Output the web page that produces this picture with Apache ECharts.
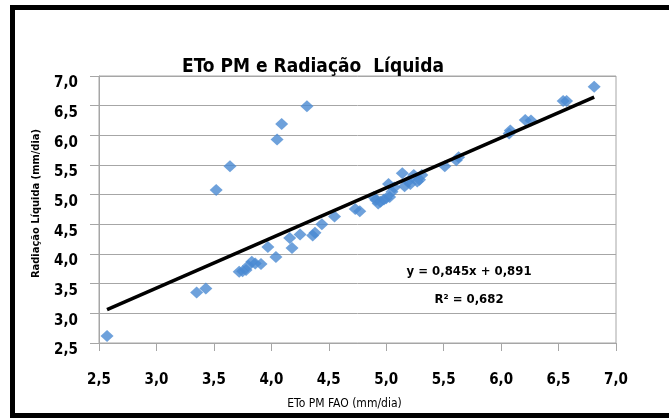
<!DOCTYPE html>
<html>
<head>
<meta charset="utf-8">
<script src="https://cdn.jsdelivr.net/npm/echarts@6/dist/echarts.min.js"></script>
<style>
  html, body { margin: 0; padding: 0; background: #fff; }
  #chart { width: 669px; height: 418px; }
</style>
</head>
<body>
<div id="chart"></div>
<script>
// ETo PM FAO (mm/dia)
const etoPM = [2.57, 3.35, 3.43, 3.52, 3.64, 3.72, 3.75, 3.78, 3.80, 3.83, 3.86, 3.91, 3.97, 4.04, 4.05, 4.09,
  4.16, 4.18, 4.25, 4.31, 4.36, 4.38, 4.44, 4.55, 4.73, 4.77, 4.89, 4.91, 4.93, 4.95, 4.98, 5.00, 5.02, 5.03,
  5.05, 5.07, 5.14, 5.16, 5.19, 5.21, 5.24, 5.27, 5.29, 5.31, 5.51, 5.61, 5.63, 6.07, 6.08, 6.21, 6.26,
  6.54, 6.57, 6.81]
// Radiação Líquida (mm/dia)
const radLiq = [2.62, 3.35, 3.42, 5.08, 5.48, 3.70, 3.71, 3.73, 3.80, 3.87, 3.84, 3.83, 4.12, 3.95, 5.93, 6.19,
  4.27, 4.10, 4.33, 6.49, 4.31, 4.36, 4.50, 4.63, 4.76, 4.72, 4.96, 4.91, 4.85, 4.88, 4.92, 4.94, 5.18, 4.96,
  5.05, 5.12, 5.36, 5.14, 5.22, 5.18, 5.33, 5.22, 5.25, 5.33, 5.48, 5.58, 5.63, 6.03, 6.08, 6.26, 6.25,
  6.58, 6.58, 6.82]
// linha de tendência (valores do gráfico)
const slope = 0.845
const intercept = 0.891
const r2 = 0.682

const fmt = v => v.toFixed(3).replace('.', ',')
const minX = Math.min(...etoPM)
const maxX = Math.max(...etoPM)
const trend = [[minX, slope * minX + intercept], [maxX, slope * maxX + intercept]]
const points = etoPM.map((x, i) => [x, radLiq[i]])

const font = '"Liberation Sans Narrow", "DejaVu Sans Condensed", sans-serif'
const gray = '#a6a6a6'

const chart = echarts.init(document.getElementById('chart'))
chart.setOption({
  animation: false,
  title: {
    text: 'ETo PM e Radiação  Líquida',
    left: 308, top: 53, textAlign: 'center',
    textStyle: { fontFamily: font, fontSize: 19, fontWeight: 'bold', color: '#000' }
  },
  grid: { left: 99, right: 53, top: 76, bottom: 75, show: true, borderColor: gray, borderWidth: 1 },
  xAxis: {
    type: 'value', min: 2.5, max: 7.0, interval: 0.5,
    name: 'ETo PM FAO (mm/dia)', nameLocation: 'middle', nameGap: 55,
    nameTextStyle: { fontFamily: font, fontSize: 12, color: '#000', padding: [0, 26, 0, 0] },
    axisLine: { lineStyle: { color: gray } },
    axisTick: { show: true, length: 8, lineStyle: { color: gray } },
    splitLine: { show: false },
    axisLabel: {
      margin: 30, fontFamily: font, fontSize: 15, fontWeight: 'bold', color: '#000',
      formatter: v => v.toFixed(1).replace('.', ',')
    }
  },
  yAxis: {
    type: 'value', min: 2.5, max: 7.0, interval: 0.5,
    name: 'Radiação Líquida (mm/dia)', nameLocation: 'middle', nameGap: 57, nameRotate: 90,
    nameTextStyle: { fontFamily: font, fontSize: 11, fontWeight: 'bold', color: '#000', padding: [0, 0, 0, 12] },
    axisLine: { show: true, lineStyle: { color: gray } },
    axisTick: { show: true, length: 9, lineStyle: { color: gray } },
    splitLine: { show: true, lineStyle: { color: gray } },
    axisLabel: {
      margin: 21, fontFamily: font, fontSize: 15, fontWeight: 'bold', color: '#000',
      verticalAlign: 'top',
      formatter: v => v.toFixed(1).replace('.', ',')
    }
  },
  series: [
    {
      type: 'scatter', data: points, symbol: 'diamond', symbolSize: [13, 12],
      itemStyle: { color: '#4a89d2' }, z: 2
    },
    {
      type: 'line', data: trend, symbol: 'none', silent: true,
      lineStyle: { color: '#000', width: 3.5 }, z: 3
    }
  ],
  graphic: [
    {
      type: 'rect', shape: { x: 12.5, y: 7.5, width: 720, height: 408 },
      style: { fill: 'none', stroke: '#000', lineWidth: 5 }, silent: true
    },
    {
      type: 'text', x: 469, y: 272,
      style: { text: 'y = ' + fmt(slope) + 'x + ' + fmt(intercept), font: 'bold 13px ' + font, fill: '#000', align: 'center', verticalAlign: 'middle' }
    },
    {
      type: 'text', x: 469, y: 300,
      style: { text: 'R² = ' + fmt(r2), font: 'bold 13px ' + font, fill: '#000', align: 'center', verticalAlign: 'middle' }
    }
  ]
})
</script>
</body>
</html>
